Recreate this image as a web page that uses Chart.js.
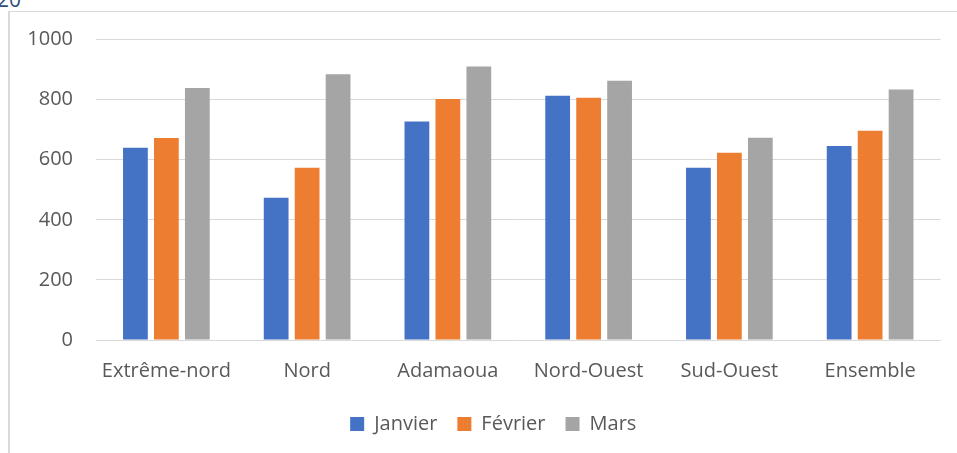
<!DOCTYPE html>
<html>
<head>
<meta charset="utf-8">
<script src="https://cdn.jsdelivr.net/npm/chart.js@4.4.1/dist/chart.umd.min.js"></script>
<style>
  html, body { margin: 0; padding: 0; background: #ffffff; overflow: hidden; width: 957px; height: 453px; }
  #frame { position: absolute; left: 8px; top: 11px; width: 1000px; height: 500px; border-left: 2px solid #D9D9D9; border-top: 1px solid #D9D9D9; }
  #cap { position: absolute; left: -3px; top: -15px; font-family: "Open Sans", sans-serif; font-size: 21px; color: #2F4F7A; }
  #wrap { position: absolute; left: 0; top: 0; width: 957px; height: 453px; }
</style>
</head>
<body>
<div id="frame"></div>
<div id="cap">20</div>
<div id="wrap"><canvas id="c" width="957" height="453"></canvas></div>
<script>
const categories = ["Extrême-nord", "Nord", "Adamaoua", "Nord-Ouest", "Sud-Ouest", "Ensemble"];
const janvier = [640, 473, 727, 813, 573, 646];
const fevrier = [672, 573, 802, 806, 623, 696];
const mars = [839, 884, 910, 863, 673, 834];
const yTicks = [0, 200, 400, 600, 800, 1000];
const seriesNames = ["Janvier", "Février", "Mars"];

const FONT = "'Open Sans', sans-serif";
const TXT = "#595959";

const shiftLegend = {
  id: "shiftLegend",
  afterLayout(chart) {
    const lg = chart.legend;
    if (lg) { lg.left += 23; lg.right += 23; }
  }
};

new Chart(document.getElementById("c"), {
  type: "bar",
  data: {
    labels: categories,
    datasets: [
      { label: seriesNames[0], data: janvier, backgroundColor: "#4472C4" },
      { label: seriesNames[1], data: fevrier, backgroundColor: "#ED7D31" },
      { label: seriesNames[2], data: mars, backgroundColor: "#A5A5A5" }
    ]
  },
  plugins: [shiftLegend],
  options: {
    responsive: false,
    animation: false,
    layout: { padding: { top: 39.5, right: 16.5, left: 0, bottom: 9 } },
    datasets: { bar: { categoryPercentage: 0.66, barPercentage: 0.8 } },
    scales: {
      x: {
        grid: { display: false },
        border: { display: true, color: "#D9D9D9", width: 1 },
        ticks: { color: TXT, font: { family: FONT, size: 20 }, padding: 11, maxRotation: 0 },
        afterFit: (s) => { s.height = 54; }
      },
      y: {
        min: 0, max: 1000,
        afterBuildTicks: (s) => { s.ticks = yTicks.map(v => ({ value: v })); },
        grid: { color: "#D9D9D9", lineWidth: 1, drawTicks: false },
        border: { display: false },
        ticks: { color: TXT, font: { family: FONT, size: 20 }, padding: 23, callback: (v) => String(v) },
        afterFit: (s) => { s.width = 96; }
      }
    },
    plugins: {
      tooltip: { enabled: false },
      legend: {
        position: "bottom",
        labels: { color: TXT, font: { family: FONT, size: 20 }, boxWidth: 14, boxHeight: 14, padding: 20 }
      }
    }
  }
});
</script>
</body>
</html>
